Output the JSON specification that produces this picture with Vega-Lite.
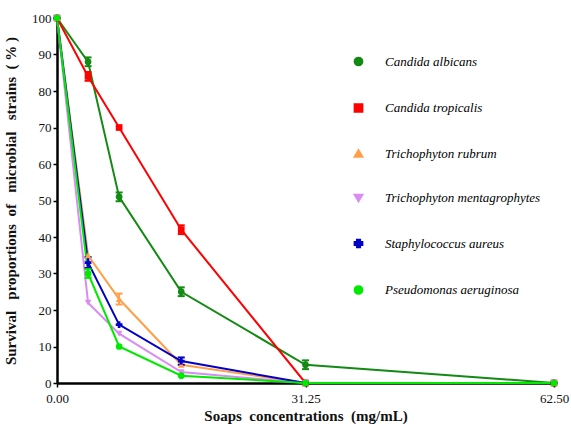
{
  "$schema": "https://vega.github.io/schema/vega-lite/v6.json",
  "autosize": "none",
  "width": 497,
  "height": 365,
  "padding": {"left": 57, "top": 18, "right": 17, "bottom": 44},
  "background": "white",
  "config": {
    "view": {"stroke": null},
    "font": "Liberation Serif",
    "axis": {"titleFont": "Liberation Serif", "titleFontWeight": "bold", "titleFontSize": 15, "titleColor": "#111",
      "labelFont": "Liberation Serif", "labelFontSize": 13, "labelColor": "#111",
      "domainColor": "black", "domainWidth": 2.5, "tickColor": "black", "tickWidth": 1.5, "tickSize": 4, "grid": false},
    "axisX": {"titlePadding": 3, "labelPadding": 5},
    "axisY": {"titlePadding": 13, "labelPadding": 2},
    "legend": {"orient": "none", "legendX": 295, "legendY": 37, "title": null,
      "labelFont": "Liberation Serif", "labelFontStyle": "italic", "labelFontSize": 13, "labelColor": "black",
      "rowPadding": 29.5, "symbolSize": 60, "symbolStrokeWidth": 2, "symbolOpacity": 1, "labelOffset": 20}
  },
  "datasets": {
    "main": [
      {"species": "Candida albicans", "conc": 0, "surv": 100},
      {"species": "Candida albicans", "conc": 3.90625, "surv": 88},
      {"species": "Candida albicans", "conc": 7.8125, "surv": 51},
      {"species": "Candida albicans", "conc": 15.625, "surv": 25},
      {"species": "Candida albicans", "conc": 31.25, "surv": 5},
      {"species": "Candida albicans", "conc": 62.5, "surv": 0},
      {"species": "Candida tropicalis", "conc": 0, "surv": 100},
      {"species": "Candida tropicalis", "conc": 3.90625, "surv": 84},
      {"species": "Candida tropicalis", "conc": 7.8125, "surv": 70},
      {"species": "Candida tropicalis", "conc": 15.625, "surv": 42},
      {"species": "Candida tropicalis", "conc": 31.25, "surv": 0},
      {"species": "Candida tropicalis", "conc": 62.5, "surv": 0},
      {"species": "Trichophyton rubrum", "conc": 0, "surv": 100},
      {"species": "Trichophyton rubrum", "conc": 3.90625, "surv": 35},
      {"species": "Trichophyton rubrum", "conc": 7.8125, "surv": 23},
      {"species": "Trichophyton rubrum", "conc": 15.625, "surv": 5},
      {"species": "Trichophyton rubrum", "conc": 31.25, "surv": 0},
      {"species": "Trichophyton rubrum", "conc": 62.5, "surv": 0},
      {"species": "Trichophyton mentagrophytes", "conc": 0, "surv": 100},
      {"species": "Trichophyton mentagrophytes", "conc": 3.90625, "surv": 22},
      {"species": "Trichophyton mentagrophytes", "conc": 7.8125, "surv": 13.5},
      {"species": "Trichophyton mentagrophytes", "conc": 15.625, "surv": 3},
      {"species": "Trichophyton mentagrophytes", "conc": 31.25, "surv": 0},
      {"species": "Trichophyton mentagrophytes", "conc": 62.5, "surv": 0},
      {"species": "Staphylococcus aureus", "conc": 0, "surv": 100},
      {"species": "Staphylococcus aureus", "conc": 3.90625, "surv": 33},
      {"species": "Staphylococcus aureus", "conc": 7.8125, "surv": 16},
      {"species": "Staphylococcus aureus", "conc": 15.625, "surv": 6},
      {"species": "Staphylococcus aureus", "conc": 31.25, "surv": 0},
      {"species": "Staphylococcus aureus", "conc": 62.5, "surv": 0},
      {"species": "Pseudomonas aeruginosa", "conc": 0, "surv": 100},
      {"species": "Pseudomonas aeruginosa", "conc": 3.90625, "surv": 30},
      {"species": "Pseudomonas aeruginosa", "conc": 7.8125, "surv": 10},
      {"species": "Pseudomonas aeruginosa", "conc": 15.625, "surv": 2},
      {"species": "Pseudomonas aeruginosa", "conc": 31.25, "surv": 0},
      {"species": "Pseudomonas aeruginosa", "conc": 62.5, "surv": 0}
    ],
    "errs": [
      {"species": "Candida albicans", "bar": "ca1", "conc": 3.90625, "surv": 86.8},
      {"species": "Candida albicans", "bar": "ca1", "conc": 3.90625, "surv": 89.2},
      {"species": "Candida albicans", "bar": "ca2", "conc": 7.8125, "surv": 49.8},
      {"species": "Candida albicans", "bar": "ca2", "conc": 7.8125, "surv": 52.2},
      {"species": "Candida albicans", "bar": "ca3", "conc": 15.625, "surv": 23.8},
      {"species": "Candida albicans", "bar": "ca3", "conc": 15.625, "surv": 26.2},
      {"species": "Candida albicans", "bar": "ca4", "conc": 31.25, "surv": 3.8},
      {"species": "Candida albicans", "bar": "ca4", "conc": 31.25, "surv": 6.2},
      {"species": "Candida tropicalis", "bar": "ct1", "conc": 3.90625, "surv": 82.8},
      {"species": "Candida tropicalis", "bar": "ct1", "conc": 3.90625, "surv": 85.2},
      {"species": "Candida tropicalis", "bar": "ct2", "conc": 15.625, "surv": 40.8},
      {"species": "Candida tropicalis", "bar": "ct2", "conc": 15.625, "surv": 43.2},
      {"species": "Trichophyton rubrum", "bar": "tr1", "conc": 7.8125, "surv": 21.5},
      {"species": "Trichophyton rubrum", "bar": "tr1", "conc": 7.8125, "surv": 24.5},
      {"species": "Staphylococcus aureus", "bar": "sa1", "conc": 3.90625, "surv": 31.5},
      {"species": "Staphylococcus aureus", "bar": "sa1", "conc": 3.90625, "surv": 34.5},
      {"species": "Staphylococcus aureus", "bar": "sa2", "conc": 15.625, "surv": 5},
      {"species": "Staphylococcus aureus", "bar": "sa2", "conc": 15.625, "surv": 7},
      {"species": "Pseudomonas aeruginosa", "bar": "pa1", "conc": 3.90625, "surv": 28.8},
      {"species": "Pseudomonas aeruginosa", "bar": "pa1", "conc": 3.90625, "surv": 31.2}
    ]
  },
  "encoding": {
    "x": {"field": "conc", "type": "quantitative",
      "scale": {"domain": [0, 62.5], "nice": false},
      "axis": {"values": [0, 31.25, 62.5], "format": ".2f", "labelFlush": false, "title": "Soaps\u00a0\u00a0concentrations\u00a0\u00a0(mg/mL)"}},
    "y": {"field": "surv", "type": "quantitative",
      "scale": {"domain": [0, 100], "nice": false},
      "axis": {"values": [0, 10, 20, 30, 40, 50, 60, 70, 80, 90, 100], "format": "d", "labelOverlap": false, "labelFlush": false,
        "title": "Survival\u00a0\u00a0\u00a0proportions\u00a0\u00a0of\u00a0\u00a0\u00a0microbial\u00a0\u00a0\u00a0strains\u00a0\u00a0(\u00a0%\u00a0)"}},
    "color": {"field": "species", "type": "nominal",
      "scale": {"domain": ["Candida albicans", "Candida tropicalis", "Trichophyton rubrum", "Trichophyton mentagrophytes", "Staphylococcus aureus", "Pseudomonas aeruginosa"],
        "range": ["#138a13", "#ff0000", "#ff9f4a", "#d98cf2", "#0000c8", "#00ea00"]}}
  },
  "layer": [
    {
      "data": {"name": "main"},
      "mark": {"type": "line", "strokeWidth": 2},
      "encoding": {"detail": {"field": "species"}}
    },
    {
      "data": {"name": "errs"},
      "mark": {"type": "line", "strokeWidth": 2},
      "encoding": {"detail": {"field": "bar"}}
    },
    {
      "data": {"name": "errs"},
      "mark": {"type": "tick", "orient": "horizontal", "size": 7, "thickness": 2, "opacity": 1},
      "encoding": {}
    },
    {
      "data": {"name": "main"},
      "mark": {"type": "point", "filled": true, "opacity": 1, "size": 45},
      "encoding": {
        "shape": {"field": "species", "type": "nominal",
          "scale": {"domain": ["Candida albicans", "Candida tropicalis", "Trichophyton rubrum", "Trichophyton mentagrophytes", "Staphylococcus aureus", "Pseudomonas aeruginosa"],
            "range": ["circle", "square", "triangle-up", "triangle-down", "cross", "circle"]}}
      }
    }
  ]
}
